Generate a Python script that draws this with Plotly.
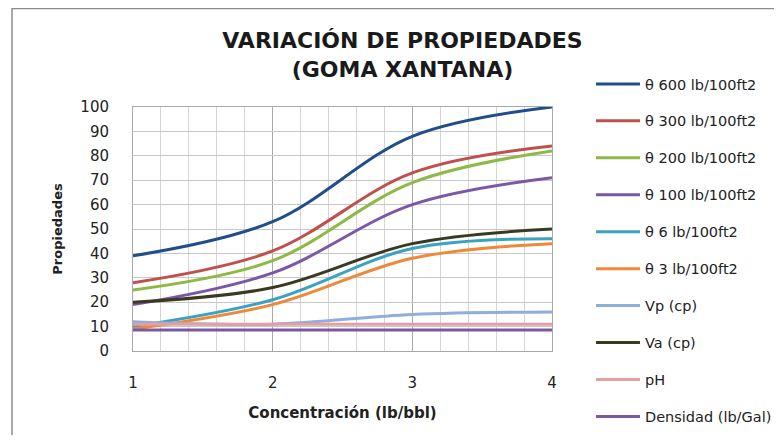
import plotly.graph_objects as go

concentracion = [1, 2, 3, 4]
series_names = ["θ 600 lb/100ft2", "θ 300 lb/100ft2", "θ 200 lb/100ft2", "θ 100 lb/100ft2",
                "θ 6 lb/100ft2", "θ 3 lb/100ft2", "Vp (cp)", "Va (cp)", "pH", "Densidad (lb/Gal)"]
theta600 = [39, 53, 88, 100]
theta300 = [28, 41, 73, 84]
theta200 = [25, 37, 69, 82]
theta100 = [19, 32, 60, 71]
theta6 = [10, 21, 42, 46]
theta3 = [9, 19, 38, 44]
vp = [12, 11, 15, 16]
va = [20, 26, 44, 50]
ph = [11, 11, 11, 11]
densidad = [8.6, 8.6, 8.6, 8.6]
series_values = [theta600, theta300, theta200, theta100, theta6, theta3, vp, va, ph, densidad]
colors = ["#1F4E8A", "#C0504D", "#8DB944", "#7A58A6", "#3AA3C1", "#F0883A",
          "#8FAEDB", "#3A3A22", "#E3A0A0", "#7A58A6"]

FONT = "DejaVu Sans"
fig = go.Figure()
for i, (name, vals, col) in enumerate(zip(series_names, series_values, colors)):
    fig.add_trace(go.Scatter(x=concentracion, y=vals, name=name, mode="lines",
                             line=dict(color=col, width=3, shape="spline", smoothing=1.0),
                             legendgroup=f"g{i}"))

fig.update_layout(
    width=766, height=427,
    margin=dict(l=125, r=222, t=99, b=84, autoexpand=False),
    paper_bgcolor="white", plot_bgcolor="white",
    font=dict(family=FONT, color="#222222"),
    title=dict(text="<b>VARIACIÓN DE PROPIEDADES<br>(GOMA XANTANA)</b>",
               x=0.515, xanchor="center", y=0.906, yanchor="top",
               font=dict(family=FONT, size=22, color="#1a1a1a")),
    legend=dict(x=1.093, xanchor="left", y=1.16, yanchor="top",
                font=dict(family=FONT, size=14.5, color="#222222"),
                itemwidth=44,
                tracegroupgap=15.1, bgcolor="rgba(0,0,0,0)", maxheight=420),
    showlegend=True,
)
fig.update_xaxes(range=[1, 4], dtick=1, tick0=1, showgrid=True, gridcolor="#A8A8A8", gridwidth=1,
                 minor=dict(dtick=0.2, showgrid=True, gridcolor="#D4D4D4", gridwidth=1),
                 showline=True, linecolor="#A8A8A8", mirror=True, ticks="", zeroline=False,
                 ticklabelstandoff=18, tickfont=dict(size=15, family=FONT),
                 title=dict(text="<b>Concentración (lb/bbl)</b>", font=dict(size=15, family=FONT), standoff=16))
fig.update_yaxes(range=[0, 100], dtick=10, showgrid=True, gridcolor="#C8C8C8", gridwidth=1,
                 showline=True, linecolor="#A8A8A8", mirror=True, ticks="", zeroline=False,
                 ticklabelstandoff=20, tickfont=dict(size=15, family=FONT),
                 title=dict(text="<b>Propiedades</b>", font=dict(size=13, family=FONT), standoff=14))
fig.add_shape(type="rect", xref="paper", yref="paper",
              x0=(4 - 125) / 419, x1=(780 - 125) / 419, y0=(343 - 440) / 244, y1=(343 - 0.5) / 244,
              line=dict(color="#8C8C8C", width=1.5), fillcolor="rgba(0,0,0,0)", layer="below")
fig.write_html("out.html")
